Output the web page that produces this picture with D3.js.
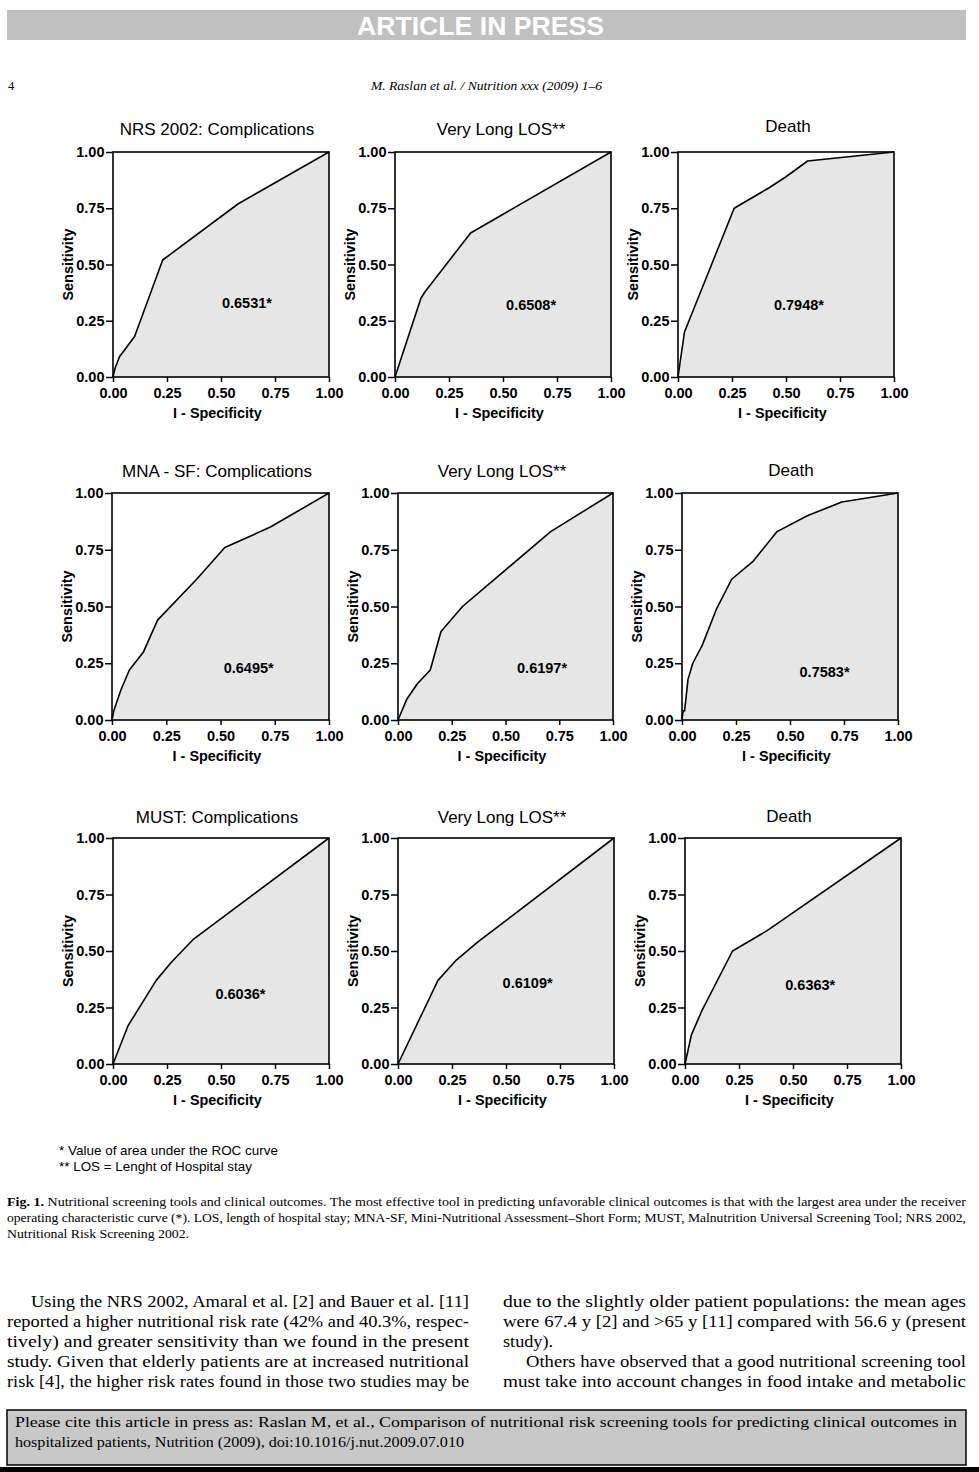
<!DOCTYPE html>
<html>
<head>
<meta charset="utf-8">
<script src="https://cdn.jsdelivr.net/npm/d3@7/dist/d3.min.js"></script>
<style>
  html, body { margin: 0; padding: 0; background: #fff; }
  svg { display: block; }
</style>
</head>
<body>
<script>
// ---------------- DATA ----------------
const panelTitles = [
  "NRS 2002: Complications", "Very Long LOS**", "Death",
  "MNA - SF: Complications", "Very Long LOS**", "Death",
  "MUST: Complications", "Very Long LOS**", "Death"
];
const aucLabels = ["0.6531*", "0.6508*", "0.7948*", "0.6495*", "0.6197*", "0.7583*", "0.6036*", "0.6109*", "0.6363*"];
const tickValues = [0, 0.25, 0.5, 0.75, 1];
const xAxisTitle = "I - Specificity";
const yAxisTitle = "Sensitivity";

// ROC curves: [1 - specificity, sensitivity]
const nrsComplications = [[0,0],[0.01,0.04],[0.03,0.09],[0.1,0.18],[0.23,0.52],[0.58,0.77],[1,1]];
const nrsLOS = [[0,0],[0.12,0.35],[0.14,0.38],[0.35,0.64],[1,1]];
const nrsDeath = [[0,0],[0.03,0.2],[0.26,0.75],[0.42,0.84],[0.5,0.89],[0.6,0.96],[1,1]];
const mnaComplications = [[0,0],[0.008,0.04],[0.04,0.13],[0.08,0.22],[0.145,0.3],[0.21,0.44],[0.39,0.62],[0.52,0.76],[0.73,0.85],[1,1]];
const mnaLOS = [[0,0],[0.04,0.09],[0.09,0.16],[0.15,0.22],[0.2,0.39],[0.3,0.5],[0.71,0.83],[1,1]];
const mnaDeath = [[0,0],[0.005,0.04],[0.012,0.04],[0.028,0.18],[0.05,0.25],[0.094,0.33],[0.16,0.49],[0.23,0.62],[0.33,0.7],[0.44,0.83],[0.58,0.9],[0.74,0.96],[1,1]];
const mustComplications = [[0,0],[0.07,0.17],[0.2,0.37],[0.27,0.45],[0.37,0.55],[1,1]];
const mustLOS = [[0,0],[0.185,0.37],[0.27,0.46],[0.37,0.54],[1,1]];
const mustDeath = [[0,0],[0.03,0.13],[0.08,0.24],[0.22,0.5],[0.38,0.59],[1,1]];
const curves = [nrsComplications, nrsLOS, nrsDeath, mnaComplications, mnaLOS, mnaDeath, mustComplications, mustLOS, mustDeath];

// AUC label anchor in data units (x = 1-spec, y = sens)
const aucAnchorX = [0.62, 0.63, 0.56, 0.63, 0.67, 0.66, 0.59, 0.60, 0.58];
const aucAnchorY = [0.33, 0.32, 0.32, 0.23, 0.23, 0.21, 0.31, 0.36, 0.35];

const footnotes = ["* Value of area under the ROC curve", "** LOS = Lenght of Hospital stay"];

// ---------------- LAYOUT ----------------
const W = 979, H = 1472;
const boxes = [
  {l:113, r:329, t:152, b:377, tx:217, ty:135},
  {l:395, r:611, t:152, b:377, tx:501, ty:135},
  {l:678, r:894, t:152, b:377, tx:788, ty:132},
  {l:112, r:329, t:493, b:720, tx:217, ty:477},
  {l:398, r:613, t:493, b:720, tx:502, ty:477},
  {l:682, r:898, t:493, b:720, tx:791, ty:476},
  {l:113, r:329, t:838, b:1064, tx:217, ty:823},
  {l:398, r:614, t:838, b:1064, tx:502, ty:823},
  {l:685, r:901, t:838, b:1064, tx:789, ty:822}
];
const SANS = "'Liberation Sans', Arial, Helvetica, sans-serif";
const SERIF = "'Liberation Serif', 'Times New Roman', serif";

const svg = d3.select("body").append("svg").attr("width", W).attr("height", H);
svg.append("rect").attr("width", W).attr("height", H).attr("fill", "#fff");

function txt(x, y, s, o = {}) {
  const t = svg.append("text").attr("x", x).attr("y", y).text(s)
    .attr("font-family", o.family || SERIF)
    .attr("font-size", o.size || 12)
    .attr("fill", o.fill || "#000");
  if (o.weight) t.attr("font-weight", o.weight);
  if (o.style) t.attr("font-style", o.style);
  if (o.anchor) t.attr("text-anchor", o.anchor);
  if (o.len) t.attr("textLength", o.len).attr("lengthAdjust", o.adjust || "spacingAndGlyphs");
  return t;
}

// ---------- header ----------
svg.append("rect").attr("x", 7).attr("y", 10).attr("width", 959).attr("height", 30).attr("fill", "#c0c0c0");
txt(480.5, 34.5, "ARTICLE IN PRESS", {family: SANS, size: 26.5, weight: "bold", fill: "#fff", anchor: "middle", len: 247});
txt(8, 90, "4", {size: 12.5});
txt(371, 90, "M. Raslan et al. / Nutrition xxx (2009) 1–6", {size: 12.5, style: "italic", len: 231});

// ---------- panels ----------
const fmt = d3.format(".2f");
boxes.forEach((bx, i) => {
  const x = d3.scaleLinear().domain([0, 1]).range([bx.l, bx.r]);
  const y = d3.scaleLinear().domain([0, 1]).range([bx.b, bx.t]);
  const g = svg.append("g");

  const area = d3.area().x(d => x(d[0])).y0(y(0)).y1(d => y(d[1]));
  g.append("path").datum(curves[i]).attr("d", area).attr("fill", "#e6e6e6");
  const line = d3.line().x(d => x(d[0])).y(d => y(d[1]));
  g.append("path").datum(curves[i]).attr("d", line).attr("fill", "none")
    .attr("stroke", "#000").attr("stroke-width", 1.6).attr("stroke-linejoin", "round");

  g.append("rect").attr("x", bx.l).attr("y", bx.t).attr("width", bx.r - bx.l).attr("height", bx.b - bx.t)
    .attr("fill", "none").attr("stroke", "#000").attr("stroke-width", 1.6);

  const ya = g.append("g").attr("transform", `translate(${bx.l},0)`)
    .call(d3.axisLeft(y).tickValues(tickValues).tickFormat(fmt).tickSize(7).tickPadding(1.5));
  const xa = g.append("g").attr("transform", `translate(0,${bx.b})`)
    .call(d3.axisBottom(x).tickValues(tickValues).tickFormat(fmt).tickSize(5).tickPadding(5.5));
  [ya, xa].forEach(a => {
    a.select(".domain").remove();
    a.selectAll("line").attr("stroke", "#000").attr("stroke-width", 1.5);
    a.selectAll("text").attr("font-family", SANS).attr("font-size", 14.5)
      .attr("font-weight", "bold").attr("fill", "#000");
  });

  // title
  g.append("text").attr("x", bx.tx).attr("y", bx.ty).attr("text-anchor", "middle")
    .attr("font-family", SANS).attr("font-size", 17).text(panelTitles[i]);
  // x title
  g.append("text").attr("x", (bx.l + bx.r) / 2 - 3.5).attr("y", bx.b + 41).attr("text-anchor", "middle")
    .attr("font-family", SANS).attr("font-size", 14.4).attr("font-weight", "bold").text(xAxisTitle);
  // y title
  const cy = (bx.t + bx.b) / 2;
  g.append("text").attr("transform", `translate(${bx.l - 40},${cy}) rotate(-90)`).attr("text-anchor", "middle")
    .attr("font-family", SANS).attr("font-size", 14.4).attr("font-weight", "bold").text(yAxisTitle);
  // AUC label
  g.append("text").attr("x", x(aucAnchorX[i])).attr("y", y(aucAnchorY[i])).attr("dy", "0.35em")
    .attr("text-anchor", "middle").attr("font-family", SANS).attr("font-size", 14.5)
    .attr("font-weight", "bold").text(aucLabels[i]);
});

// ---------- footnotes ----------
txt(59, 1154.5, footnotes[0], {family: SANS, size: 13, len: 219});
txt(59, 1170.5, footnotes[1], {family: SANS, size: 13, len: 193});

// ---------- caption ----------
const cap1 = svg.append("text").attr("x", 7).attr("y", 1206).attr("font-family", SERIF).attr("font-size", 12.5)
  .attr("textLength", 959).attr("lengthAdjust", "spacingAndGlyphs");
cap1.append("tspan").attr("font-weight", "bold").text("Fig. 1.");
cap1.append("tspan").text(" Nutritional screening tools and clinical outcomes. The most effective tool in predicting unfavorable clinical outcomes is that with the largest area under the receiver");
txt(7, 1222, "operating characteristic curve (*). LOS, length of hospital stay; MNA-SF, Mini-Nutritional Assessment–Short Form; MUST, Malnutrition Universal Screening Tool; NRS 2002,", {size: 12.5, len: 959});
txt(7, 1238, "Nutritional Risk Screening 2002.", {size: 12.5, len: 182});

// ---------- body text ----------
const bodyL = [
  [31, "Using the NRS 2002, Amaral et al. [2] and Bauer et al. [11]", 438],
  [7, "reported a higher nutritional risk rate (42% and 40.3%, respec-", 462],
  [7, "tively) and greater sensitivity than we found in the present", 462],
  [7, "study. Given that elderly patients are at increased nutritional", 462],
  [7, "risk [4], the higher risk rates found in those two studies may be", 462]
];
const bodyR = [
  [503, "due to the slightly older patient populations: the mean ages", 463],
  [503, "were 67.4 y [2] and >65 y [11] compared with 56.6 y (present", 463],
  [503, "study).", 50],
  [526, "Others have observed that a good nutritional screening tool", 440],
  [503, "must take into account changes in food intake and metabolic", 463]
];
bodyL.forEach((l, k) => txt(l[0], 1307 + k * 20, l[1], {size: 16, len: l[2]}));
bodyR.forEach((l, k) => txt(l[0], 1307 + k * 20, l[1], {size: 16, len: l[2]}));

// ---------- citation box ----------
svg.append("rect").attr("x", 7).attr("y", 1410).attr("width", 959).attr("height", 55)
  .attr("fill", "#c8c8c8").attr("stroke", "#000").attr("stroke-width", 1.5);
txt(15, 1427, "Please cite this article in press as: Raslan M, et al., Comparison of nutritional risk screening tools for predicting clinical outcomes in", {size: 15.5, len: 942});
txt(15, 1447, "hospitalized patients, Nutrition (2009), doi:10.1016/j.nut.2009.07.010", {size: 15.5, len: 449});
svg.append("rect").attr("x", 0).attr("y", 1467).attr("width", W).attr("height", 5).attr("fill", "#000");
</script>
</body>
</html>
